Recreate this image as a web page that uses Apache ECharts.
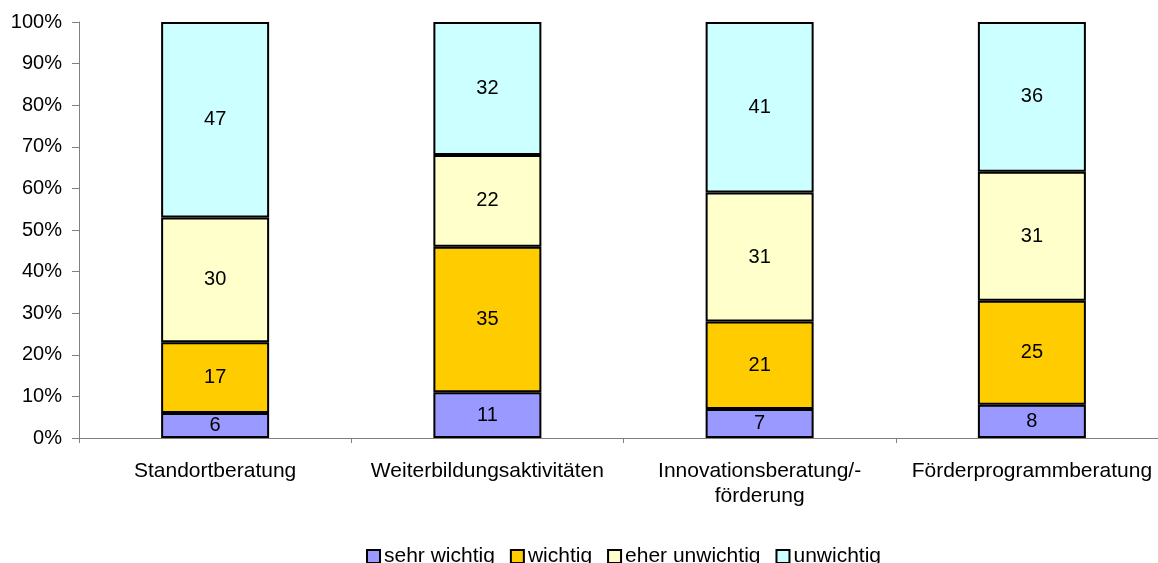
<!DOCTYPE html>
<html>
<head>
<meta charset="utf-8">
<script src="https://cdn.jsdelivr.net/npm/echarts@6/dist/echarts.min.js"></script>
<style>
  html, body { margin: 0; padding: 0; background: #fff; overflow: hidden; }
  /* Plotfläche ragt rechts etwas über das Bild hinaus */
  #chart { width: 1168px; height: 563px; }
</style>
</head>
<body>
<div id="chart"></div>
<script>
// Kategorien
const categories = ['Standortberatung', 'Weiterbildungsaktivitäten', 'Innovationsberatung/-\nförderung', 'Förderprogrammberatung']
// Werte je Stufe (Prozent)
const sehrWichtig = [6, 11, 7, 8]
const wichtig = [17, 35, 21, 25]
const eherUnwichtig = [30, 22, 31, 31]
const unwichtig = [47, 32, 41, 36]

const seriesNames = ['sehr wichtig', 'wichtig', 'eher unwichtig', 'unwichtig']
const seriesData = [sehrWichtig, wichtig, eherUnwichtig, unwichtig]
const colors = ['#9999FF', '#FFCC00', '#FFFFCC', '#CCFFFF']

const font = 'Liberation Sans, Arial, sans-serif'

const chart = echarts.init(document.getElementById('chart'))

const option = {
    animation: false,
    textStyle: { fontFamily: font },
    grid: { left: 79, top: 22, right: 0, bottom: 125, containLabel: false },
    legend: {
        top: 541,
        left: 361,
        icon: 'rect',
        itemWidth: 13,
        itemHeight: 13,
        itemGap: 15,
        data: seriesNames,
        itemStyle: { borderColor: '#000', borderWidth: 2 },
        textStyle: { fontSize: 21, color: '#000', fontFamily: font, padding: [0, 0, 0, -1] }
    },
    xAxis: {
        type: 'category',
        data: categories,
        axisLine: { lineStyle: { color: '#808080', width: 1 } },
        axisTick: { show: true, length: 5, alignWithLabel: false, lineStyle: { color: '#808080' } },
        axisLabel: { interval: 0, fontSize: 21, color: '#000', margin: 21, lineHeight: 25, fontFamily: font }
    },
    yAxis: {
        type: 'value',
        min: 0,
        max: 100,
        interval: 10,
        splitLine: { show: false },
        axisLine: { show: true, lineStyle: { color: '#808080', width: 1 } },
        axisTick: { show: true, length: 7, lineStyle: { color: '#808080' } },
        axisLabel: { formatter: '{value}%', fontSize: 20, color: '#000', margin: 17, fontFamily: font }
    },
    series: seriesNames.map((name, i) => ({
        name: name,
        type: 'bar',
        stack: 'total',
        barWidth: 108,
        data: seriesData[i],
        itemStyle: { color: colors[i], borderColor: '#000', borderWidth: 2 },
        label: { show: true, position: 'inside', fontSize: 20, color: '#000', fontFamily: font }
    }))
}

chart.setOption(option)
</script>
</body>
</html>
